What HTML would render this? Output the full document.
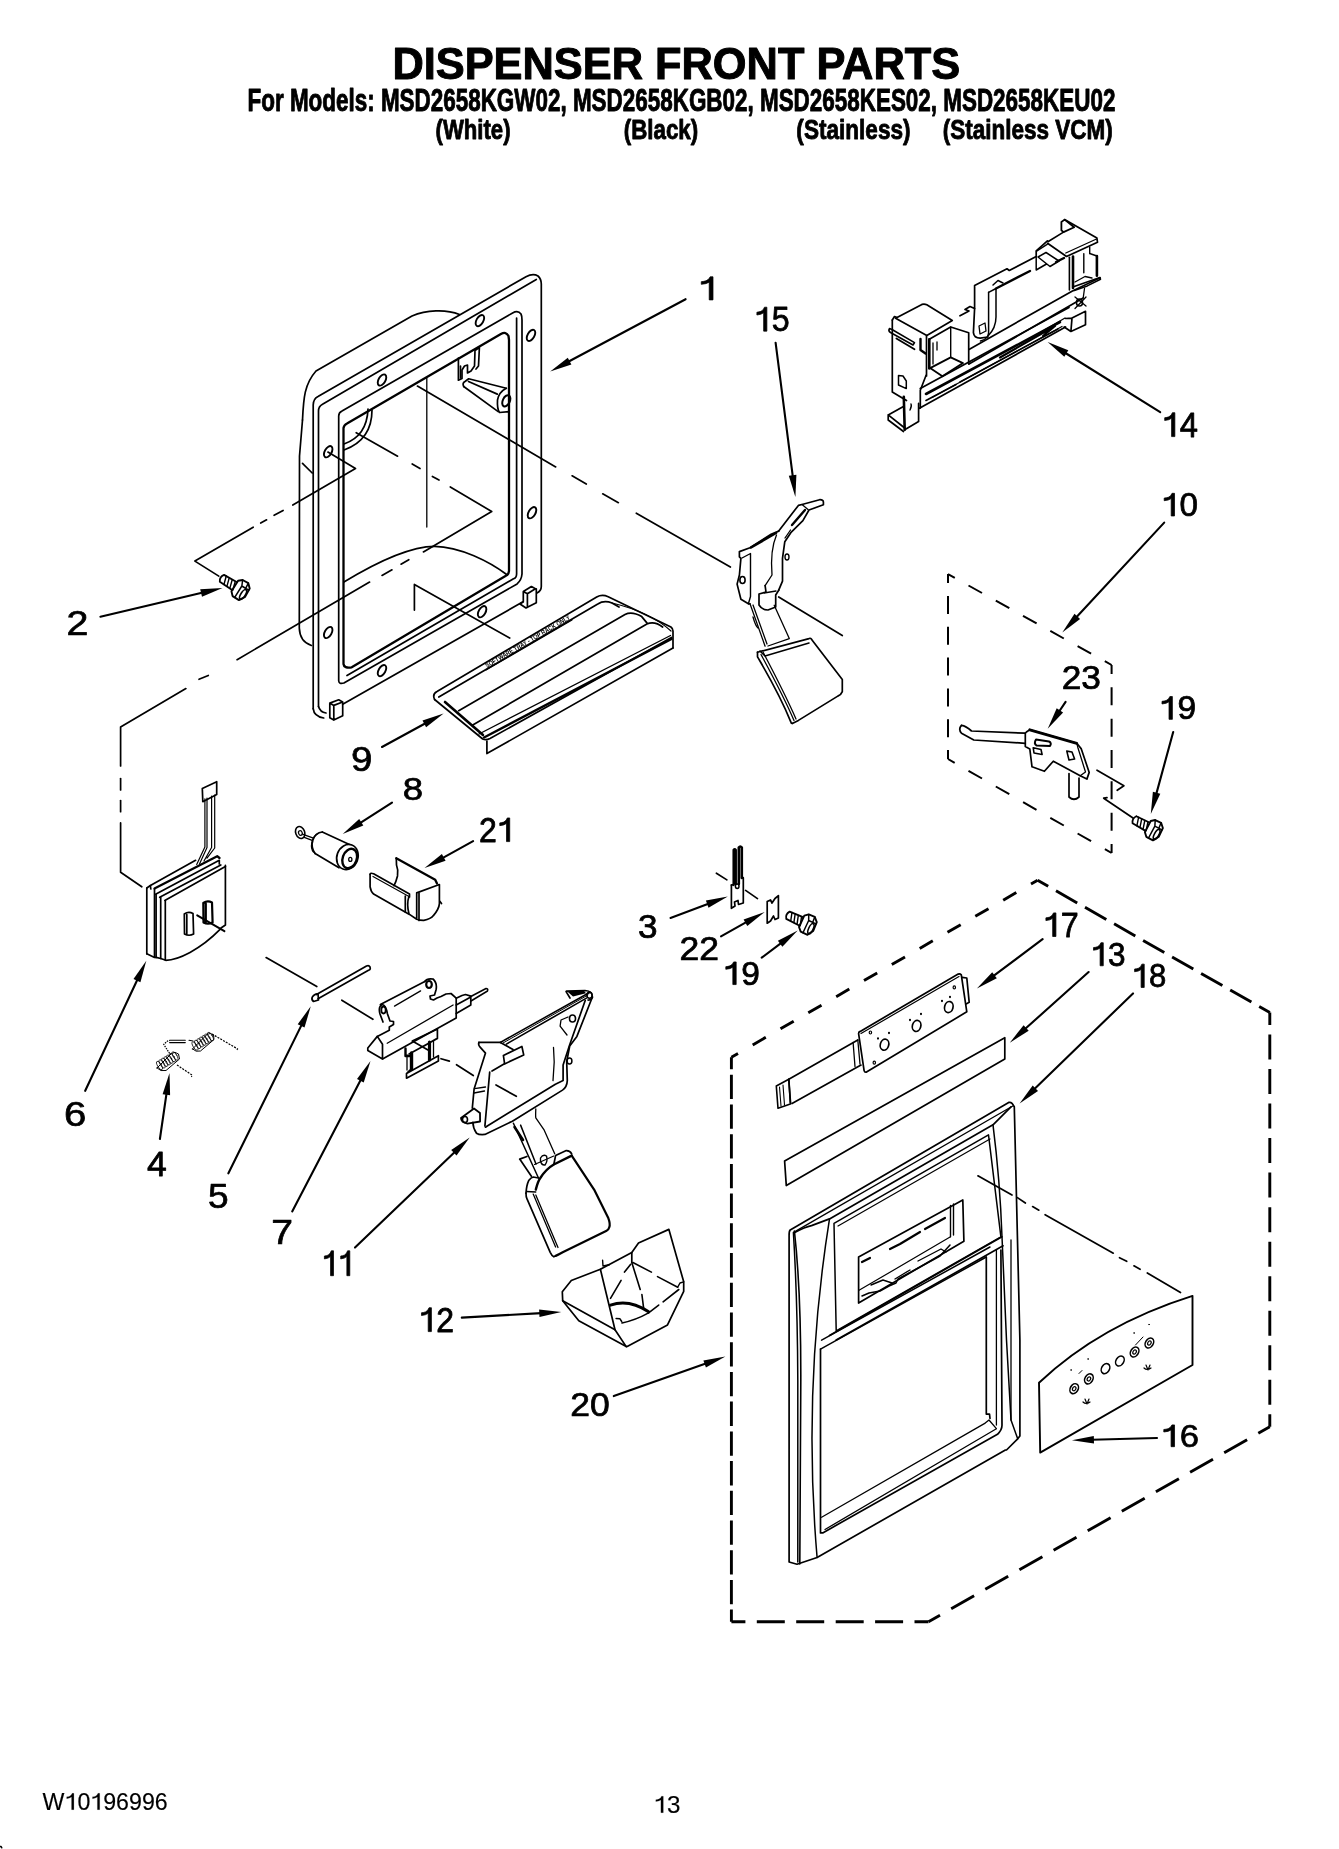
<!DOCTYPE html>
<html><head><meta charset="utf-8"><title>Dispenser Front Parts</title>
<style>
html,body{margin:0;padding:0;background:#fff;}
body{width:1339px;height:1849px;overflow:hidden;}
svg{display:block;will-change:transform;}
text{font-family:"Liberation Sans",sans-serif;fill:#000;stroke-linejoin:round;}
.ln line,.ln path,.ln polyline,.ln ellipse,.ln circle,.ln rect,.ln polygon{stroke:#000;fill:none;stroke-width:1.7;stroke-linejoin:round;stroke-linecap:round;}
.ln .f{fill:#000;stroke:none;}
.ln .w{fill:#fff;}
.ln .d{stroke-dasharray:15 16;stroke-linecap:butt;}
.ln .d2{stroke-dasharray:24 9;stroke-linecap:butt;}
</style></head><body>
<svg width="1339" height="1849" viewBox="0 0 1339 1849">
<g>
<text transform="matrix(0.4337,0,0,0.4522,392.38,78.60)" font-size="100" font-weight="bold" stroke="#000" stroke-width="2.26">DISPENSER FRONT PARTS</text>
<text transform="matrix(0.2245,0,0,0.3130,247.54,110.90)" font-size="100" font-weight="bold" stroke="#000" stroke-width="2.98">For Models: MSD2658KGW02, MSD2658KGB02, MSD2658KES02, MSD2658KEU02</text>
<text transform="matrix(0.2213,0,0,0.2797,435.59,138.70)" font-size="100" font-weight="bold" stroke="#000" stroke-width="3.19">(White)</text>
<text transform="matrix(0.2232,0,0,0.2797,623.78,138.70)" font-size="100" font-weight="bold" stroke="#000" stroke-width="3.18">(Black)</text>
<text transform="matrix(0.2258,0,0,0.2797,796.37,138.70)" font-size="100" font-weight="bold" stroke="#000" stroke-width="3.17">(Stainless)</text>
<text transform="matrix(0.2252,0,0,0.2797,942.77,138.70)" font-size="100" font-weight="bold" stroke="#000" stroke-width="3.17">(Stainless VCM)</text>
<g transform="matrix(0.2321,0,0,0.2366,42.58,1809.66)">
<text x="0.00" y="0" font-size="100" font-weight="normal" stroke="#000" stroke-width="0.64" >W</text>
<path transform="translate(94.38,0)" d="M30.5,0 L40.5,0 L40.5,-69 L33,-69 Q30.5,-60.5 22,-57 Q16,-55 9.5,-54.5 L9.5,-46.5 Q23,-47.5 30.5,-53 Z" fill="#000" stroke="#000" stroke-width="0.64" stroke-linejoin="round"/>
<text x="150.00" y="0" font-size="100" font-weight="normal" stroke="#000" stroke-width="0.64" >0</text>
<path transform="translate(205.62,0)" d="M30.5,0 L40.5,0 L40.5,-69 L33,-69 Q30.5,-60.5 22,-57 Q16,-55 9.5,-54.5 L9.5,-46.5 Q23,-47.5 30.5,-53 Z" fill="#000" stroke="#000" stroke-width="0.64" stroke-linejoin="round"/>
<text x="261.23" y="0" font-size="100" font-weight="normal" stroke="#000" stroke-width="0.64" >9</text>
<text x="316.85" y="0" font-size="100" font-weight="normal" stroke="#000" stroke-width="0.64" >6</text>
<text x="372.46" y="0" font-size="100" font-weight="normal" stroke="#000" stroke-width="0.64" >9</text>
<text x="428.08" y="0" font-size="100" font-weight="normal" stroke="#000" stroke-width="0.64" >9</text>
<text x="483.69" y="0" font-size="100" font-weight="normal" stroke="#000" stroke-width="0.64" >6</text>
</g>
<g transform="matrix(0.2420,0,0,0.2380,653.50,1812.66)">
<path transform="translate(0.00,0)" d="M30.5,0 L40.5,0 L40.5,-69 L33,-69 Q30.5,-60.5 22,-57 Q16,-55 9.5,-54.5 L9.5,-46.5 Q23,-47.5 30.5,-53 Z" fill="#000" stroke="#000" stroke-width="0.62" stroke-linejoin="round"/>
<text x="55.62" y="0" font-size="100" font-weight="normal" stroke="#000" stroke-width="0.62" >3</text>
</g>
<g transform="matrix(0.3774,0,0,0.3348,697.71,299.90)">
<path transform="translate(0.00,0)" d="M30.5,0 L40.5,0 L40.5,-69 L33,-69 Q30.5,-60.5 22,-57 Q16,-55 9.5,-54.5 L9.5,-46.5 Q23,-47.5 30.5,-53 Z" fill="#000" stroke="#000" stroke-width="2.11" stroke-linejoin="round"/>
</g>
<g transform="matrix(0.3217,0,0,0.3471,753.84,331.15)">
<path transform="translate(0.00,0)" d="M30.5,0 L40.5,0 L40.5,-69 L33,-69 Q30.5,-60.5 22,-57 Q16,-55 9.5,-54.5 L9.5,-46.5 Q23,-47.5 30.5,-53 Z" fill="#000" stroke="#000" stroke-width="2.24" stroke-linejoin="round"/>
<text x="55.62" y="0" font-size="100" font-weight="normal" stroke="#000" stroke-width="2.24" >5</text>
</g>
<g transform="matrix(0.3275,0,0,0.3464,1161.59,436.60)">
<path transform="translate(0.00,0)" d="M30.5,0 L40.5,0 L40.5,-69 L33,-69 Q30.5,-60.5 22,-57 Q16,-55 9.5,-54.5 L9.5,-46.5 Q23,-47.5 30.5,-53 Z" fill="#000" stroke="#000" stroke-width="2.23" stroke-linejoin="round"/>
<text x="55.62" y="0" font-size="100" font-weight="normal" stroke="#000" stroke-width="2.23" >4</text>
</g>
<g transform="matrix(0.3329,0,0,0.3282,1161.04,515.97)">
<path transform="translate(0.00,0)" d="M30.5,0 L40.5,0 L40.5,-69 L33,-69 Q30.5,-60.5 22,-57 Q16,-55 9.5,-54.5 L9.5,-46.5 Q23,-47.5 30.5,-53 Z" fill="#000" stroke="#000" stroke-width="2.27" stroke-linejoin="round"/>
<text x="55.62" y="0" font-size="100" font-weight="normal" stroke="#000" stroke-width="2.27" >0</text>
</g>
<g transform="matrix(0.3934,0,0,0.3514,66.43,635.00)">
<text x="0.00" y="0" font-size="100" font-weight="normal" stroke="#000" stroke-width="2.01" >2</text>
</g>
<g transform="matrix(0.3533,0,0,0.3380,1061.63,689.16)">
<text x="0.00" y="0" font-size="100" font-weight="normal" stroke="#000" stroke-width="2.17" >2</text>
<text x="55.62" y="0" font-size="100" font-weight="normal" stroke="#000" stroke-width="2.17" >3</text>
</g>
<g transform="matrix(0.3347,0,0,0.3310,1158.82,719.37)">
<path transform="translate(0.00,0)" d="M30.5,0 L40.5,0 L40.5,-69 L33,-69 Q30.5,-60.5 22,-57 Q16,-55 9.5,-54.5 L9.5,-46.5 Q23,-47.5 30.5,-53 Z" fill="#000" stroke="#000" stroke-width="2.25" stroke-linejoin="round"/>
<text x="55.62" y="0" font-size="100" font-weight="normal" stroke="#000" stroke-width="2.25" >9</text>
</g>
<g transform="matrix(0.3849,0,0,0.3423,351.07,770.96)">
<text x="0.00" y="0" font-size="100" font-weight="normal" stroke="#000" stroke-width="2.06" >9</text>
</g>
<g transform="matrix(0.3660,0,0,0.3211,402.75,800.48)">
<text x="0.00" y="0" font-size="100" font-weight="normal" stroke="#000" stroke-width="2.18" >8</text>
</g>
<g transform="matrix(0.3205,0,0,0.3429,478.90,841.60)">
<text x="0.00" y="0" font-size="100" font-weight="normal" stroke="#000" stroke-width="2.26" >2</text>
<path transform="translate(55.62,0)" d="M30.5,0 L40.5,0 L40.5,-69 L33,-69 Q30.5,-60.5 22,-57 Q16,-55 9.5,-54.5 L9.5,-46.5 Q23,-47.5 30.5,-53 Z" fill="#000" stroke="#000" stroke-width="2.26" stroke-linejoin="round"/>
</g>
<g transform="matrix(0.3511,0,0,0.3282,638.00,937.97)">
<text x="0.00" y="0" font-size="100" font-weight="normal" stroke="#000" stroke-width="2.21" >3</text>
</g>
<g transform="matrix(0.3550,0,0,0.3329,679.42,959.60)">
<text x="0.00" y="0" font-size="100" font-weight="normal" stroke="#000" stroke-width="2.18" >2</text>
<text x="55.62" y="0" font-size="100" font-weight="normal" stroke="#000" stroke-width="2.18" >2</text>
</g>
<g transform="matrix(0.3347,0,0,0.3282,722.62,984.57)">
<path transform="translate(0.00,0)" d="M30.5,0 L40.5,0 L40.5,-69 L33,-69 Q30.5,-60.5 22,-57 Q16,-55 9.5,-54.5 L9.5,-46.5 Q23,-47.5 30.5,-53 Z" fill="#000" stroke="#000" stroke-width="2.26" stroke-linejoin="round"/>
<text x="55.62" y="0" font-size="100" font-weight="normal" stroke="#000" stroke-width="2.26" >9</text>
</g>
<g transform="matrix(0.3229,0,0,0.3420,1042.83,936.50)">
<path transform="translate(0.00,0)" d="M30.5,0 L40.5,0 L40.5,-69 L33,-69 Q30.5,-60.5 22,-57 Q16,-55 9.5,-54.5 L9.5,-46.5 Q23,-47.5 30.5,-53 Z" fill="#000" stroke="#000" stroke-width="2.26" stroke-linejoin="round"/>
<text x="55.62" y="0" font-size="100" font-weight="normal" stroke="#000" stroke-width="2.26" >7</text>
</g>
<g transform="matrix(0.3151,0,0,0.3338,1090.51,965.77)">
<path transform="translate(0.00,0)" d="M30.5,0 L40.5,0 L40.5,-69 L33,-69 Q30.5,-60.5 22,-57 Q16,-55 9.5,-54.5 L9.5,-46.5 Q23,-47.5 30.5,-53 Z" fill="#000" stroke="#000" stroke-width="2.31" stroke-linejoin="round"/>
<text x="55.62" y="0" font-size="100" font-weight="normal" stroke="#000" stroke-width="2.31" >3</text>
</g>
<g transform="matrix(0.3104,0,0,0.3380,1131.65,987.46)">
<path transform="translate(0.00,0)" d="M30.5,0 L40.5,0 L40.5,-69 L33,-69 Q30.5,-60.5 22,-57 Q16,-55 9.5,-54.5 L9.5,-46.5 Q23,-47.5 30.5,-53 Z" fill="#000" stroke="#000" stroke-width="2.31" stroke-linejoin="round"/>
<text x="55.62" y="0" font-size="100" font-weight="normal" stroke="#000" stroke-width="2.31" >8</text>
</g>
<g transform="matrix(0.4022,0,0,0.3563,63.89,1125.94)">
<text x="0.00" y="0" font-size="100" font-weight="normal" stroke="#000" stroke-width="1.98" >6</text>
</g>
<g transform="matrix(0.3560,0,0,0.3580,147.01,1176.40)">
<text x="0.00" y="0" font-size="100" font-weight="normal" stroke="#000" stroke-width="2.10" >4</text>
</g>
<g transform="matrix(0.3705,0,0,0.3514,208.12,1207.75)">
<text x="0.00" y="0" font-size="100" font-weight="normal" stroke="#000" stroke-width="2.08" >5</text>
</g>
<g transform="matrix(0.3912,0,0,0.3420,271.14,1244.40)">
<text x="0.00" y="0" font-size="100" font-weight="normal" stroke="#000" stroke-width="2.05" >7</text>
</g>
<g transform="matrix(0.2932,0,0,0.3609,321.61,1275.70)">
<path transform="translate(0.00,0)" d="M30.5,0 L40.5,0 L40.5,-69 L33,-69 Q30.5,-60.5 22,-57 Q16,-55 9.5,-54.5 L9.5,-46.5 Q23,-47.5 30.5,-53 Z" fill="#000" stroke="#000" stroke-width="2.29" stroke-linejoin="round"/>
<path transform="translate(55.62,0)" d="M30.5,0 L40.5,0 L40.5,-69 L33,-69 Q30.5,-60.5 22,-57 Q16,-55 9.5,-54.5 L9.5,-46.5 Q23,-47.5 30.5,-53 Z" fill="#000" stroke="#000" stroke-width="2.29" stroke-linejoin="round"/>
</g>
<g transform="matrix(0.3198,0,0,0.3457,418.46,1331.60)">
<path transform="translate(0.00,0)" d="M30.5,0 L40.5,0 L40.5,-69 L33,-69 Q30.5,-60.5 22,-57 Q16,-55 9.5,-54.5 L9.5,-46.5 Q23,-47.5 30.5,-53 Z" fill="#000" stroke="#000" stroke-width="2.25" stroke-linejoin="round"/>
<text x="55.62" y="0" font-size="100" font-weight="normal" stroke="#000" stroke-width="2.25" >2</text>
</g>
<g transform="matrix(0.3555,0,0,0.3408,570.32,1415.96)">
<text x="0.00" y="0" font-size="100" font-weight="normal" stroke="#000" stroke-width="2.15" >2</text>
<text x="55.62" y="0" font-size="100" font-weight="normal" stroke="#000" stroke-width="2.15" >0</text>
</g>
<g transform="matrix(0.3460,0,0,0.3155,1160.51,1446.68)">
<path transform="translate(0.00,0)" d="M30.5,0 L40.5,0 L40.5,-69 L33,-69 Q30.5,-60.5 22,-57 Q16,-55 9.5,-54.5 L9.5,-46.5 Q23,-47.5 30.5,-53 Z" fill="#000" stroke="#000" stroke-width="2.27" stroke-linejoin="round"/>
<text x="55.62" y="0" font-size="100" font-weight="normal" stroke="#000" stroke-width="2.27" >6</text>
</g>
</g>
<g class="ln">
<line x1="685.6" y1="299.2" x2="567.8" y2="362.0" style="stroke-width:2.1"/>
<path class="f" d="M550.2,371.4L567.8,357.7L571.4,364.4Z"/>
<line x1="775.6" y1="342.7" x2="792.9" y2="477.3" style="stroke-width:2.1"/>
<path class="f" d="M795.4,497.1L788.8,475.8L796.4,474.8Z"/>
<line x1="1160.2" y1="412.1" x2="1064.6" y2="352.5" style="stroke-width:2.1"/>
<path class="f" d="M1047.6,341.9L1068.3,350.3L1064.3,356.8Z"/>
<line x1="1164.2" y1="522.6" x2="1075.9" y2="617.7" style="stroke-width:2.1"/>
<path class="f" d="M1062.3,632.4L1074.5,613.7L1080.1,618.9Z"/>
<line x1="100.4" y1="616.7" x2="203.0" y2="592.6" style="stroke-width:2.1"/>
<path class="f" d="M222.5,588.0L202.0,596.7L200.2,589.3Z"/>
<line x1="1065.6" y1="701.8" x2="1058.8" y2="712.0" style="stroke-width:2.1"/>
<path class="f" d="M1047.7,728.7L1056.7,708.3L1063.1,712.5Z"/>
<line x1="1173.2" y1="732.0" x2="1156.1" y2="794.6" style="stroke-width:2.1"/>
<path class="f" d="M1150.8,813.9L1152.9,791.7L1160.3,793.7Z"/>
<line x1="382.0" y1="747.0" x2="426.0" y2="723.0" style="stroke-width:2.1"/>
<path class="f" d="M443.6,713.4L426.1,727.3L422.5,720.6Z"/>
<line x1="392.0" y1="802.6" x2="359.6" y2="823.3" style="stroke-width:2.1"/>
<path class="f" d="M342.7,834.0L359.2,819.0L363.3,825.4Z"/>
<line x1="473.1" y1="841.2" x2="442.0" y2="858.3" style="stroke-width:2.1"/>
<path class="f" d="M424.5,868.0L441.9,854.0L445.6,860.7Z"/>
<line x1="670.5" y1="917.9" x2="709.1" y2="903.5" style="stroke-width:2.1"/>
<path class="f" d="M727.8,896.5L708.5,907.8L705.9,900.6Z"/>
<line x1="721.0" y1="936.3" x2="747.2" y2="921.7" style="stroke-width:2.1"/>
<path class="f" d="M764.7,912.0L747.3,926.0L743.6,919.4Z"/>
<line x1="761.7" y1="957.7" x2="781.7" y2="942.6" style="stroke-width:2.1"/>
<path class="f" d="M797.7,930.5L782.4,946.8L777.9,940.7Z"/>
<line x1="1042.6" y1="939.2" x2="992.9" y2="976.4" style="stroke-width:2.1"/>
<path class="f" d="M976.9,988.4L992.2,972.2L996.8,978.3Z"/>
<line x1="1088.6" y1="972.0" x2="1024.7" y2="1029.3" style="stroke-width:2.1"/>
<path class="f" d="M1009.8,1042.7L1023.6,1025.2L1028.7,1030.8Z"/>
<line x1="1133.0" y1="993.4" x2="1033.9" y2="1089.6" style="stroke-width:2.1"/>
<path class="f" d="M1019.6,1103.5L1032.7,1085.4L1038.0,1090.9Z"/>
<line x1="85.2" y1="1090.8" x2="137.8" y2="978.8" style="stroke-width:2.1"/>
<path class="f" d="M146.3,960.7L140.4,982.2L133.5,979.0Z"/>
<line x1="159.9" y1="1139.0" x2="166.6" y2="1092.8" style="stroke-width:2.1"/>
<path class="f" d="M169.5,1073.0L170.1,1095.3L162.6,1094.2Z"/>
<line x1="228.4" y1="1173.3" x2="302.0" y2="1024.1" style="stroke-width:2.1"/>
<path class="f" d="M310.8,1006.2L304.5,1027.6L297.7,1024.3Z"/>
<line x1="292.2" y1="1211.4" x2="361.3" y2="1078.8" style="stroke-width:2.1"/>
<path class="f" d="M370.5,1061.1L363.7,1082.4L357.0,1078.9Z"/>
<line x1="355.0" y1="1247.6" x2="455.3" y2="1151.4" style="stroke-width:2.1"/>
<path class="f" d="M469.7,1137.6L456.5,1155.6L451.2,1150.1Z"/>
<line x1="461.8" y1="1317.6" x2="541.3" y2="1313.1" style="stroke-width:2.1"/>
<path class="f" d="M561.3,1312.0L539.5,1317.0L539.1,1309.4Z"/>
<line x1="613.8" y1="1396.1" x2="706.5" y2="1363.3" style="stroke-width:2.1"/>
<path class="f" d="M725.4,1356.6L705.9,1367.5L703.4,1360.4Z"/>
<line x1="1157.0" y1="1438.0" x2="1091.9" y2="1439.8" style="stroke-width:2.1"/>
<path class="f" d="M1071.9,1440.3L1093.8,1435.9L1094.0,1443.5Z"/>
<path style="stroke-linecap:butt;stroke-width:2.9" d="M731.4,1057.2L738.0,1053.4M752.7,1044.9L765.8,1037.3M780.5,1028.8L793.7,1021.2M808.3,1012.8L821.5,1005.2M836.2,996.7L849.3,989.1M864.0,980.6L877.2,973.0M891.8,964.5L905.0,956.9M919.7,948.4L932.8,940.8M947.5,932.3L960.7,924.7M975.3,916.3L988.5,908.7M1003.2,900.2L1016.3,892.6M1031.0,884.1L1037.6,880.3"/>
<path style="stroke-linecap:butt;stroke-width:2.9" d="M1037.6,880.3L1048.2,886.3M1056.0,890.8L1077.2,902.9M1085.0,907.3L1106.3,919.4M1114.1,923.8L1135.3,935.9M1143.1,940.4L1164.3,952.4M1172.1,956.9L1193.3,969.0M1201.1,973.4L1222.4,985.5M1230.2,989.9L1251.4,1002.0M1259.2,1006.5L1269.8,1012.5"/>
<path style="stroke-linecap:butt;stroke-width:2.9" d="M1269.8,1012.5L1269.8,1025.0M1269.8,1034.5L1269.8,1059.5M1269.8,1069.0L1269.8,1094.0M1269.8,1103.6L1269.8,1128.6M1269.8,1138.1L1269.8,1163.1M1269.8,1172.6L1269.8,1197.6M1269.8,1207.2L1269.8,1232.2M1269.8,1241.7L1269.8,1266.7M1269.8,1276.2L1269.8,1301.2M1269.8,1310.7L1269.8,1335.7M1269.8,1345.2L1269.8,1370.2M1269.8,1379.8L1269.8,1404.8M1269.8,1414.3L1269.8,1426.8"/>
<path style="stroke-linecap:butt;stroke-width:2.9" d="M1269.8,1426.8L1258.3,1433.3M1247.1,1439.8L1224.2,1452.8M1213.0,1459.3L1190.1,1472.3M1178.9,1478.8L1155.9,1491.8M1144.7,1498.3L1121.8,1511.3M1110.6,1517.8L1087.7,1530.8M1076.5,1537.3L1053.6,1550.3M1042.4,1556.8L1019.4,1569.8M1008.2,1576.3L985.3,1589.3M974.1,1595.8L951.2,1608.8M940.0,1615.3L928.5,1621.8"/>
<path style="stroke-linecap:butt;stroke-width:2.9" d="M928.5,1621.8L914.5,1621.8M903.1,1621.8L875.1,1621.8M863.7,1621.8L835.7,1621.8M824.2,1621.8L796.2,1621.8M784.8,1621.8L756.8,1621.8M745.4,1621.8L731.4,1621.8"/>
<path style="stroke-linecap:butt;stroke-width:2.9" d="M731.4,1621.8L731.4,1609.6M731.4,1604.2L731.4,1579.9M731.4,1574.5L731.4,1550.2M731.4,1544.8L731.4,1520.5M731.4,1515.1L731.4,1490.8M731.4,1485.4L731.4,1461.1M731.4,1455.7L731.4,1431.4M731.4,1425.9L731.4,1401.6M731.4,1396.2L731.4,1371.9M731.4,1366.5L731.4,1342.2M731.4,1336.8L731.4,1312.5M731.4,1307.1L731.4,1282.8M731.4,1277.4L731.4,1253.1M731.4,1247.6L731.4,1223.3M731.4,1217.9L731.4,1193.6M731.4,1188.2L731.4,1163.9M731.4,1158.5L731.4,1134.2M731.4,1128.8L731.4,1104.5M731.4,1099.1L731.4,1074.8M731.4,1069.3L731.4,1057.2"/>
<path style="stroke-linecap:butt;stroke-width:2.0" d="M948.0,574.1L954.8,577.9M968.5,585.5L982.0,593.0M995.8,600.6L1009.3,608.2M1023.0,615.8L1036.6,623.3M1050.3,630.9L1063.8,638.5M1077.6,646.1L1091.1,653.6M1104.8,661.2L1111.6,665.0"/>
<path style="stroke-linecap:butt;stroke-width:2.0" d="M1111.6,665.0L1111.6,674.0M1111.6,687.3L1111.6,705.3M1111.6,718.7L1111.6,736.7M1111.6,750.0L1111.6,768.0M1111.6,781.3L1111.6,799.3M1111.6,812.7L1111.6,830.7M1111.6,844.0L1111.6,853.0"/>
<path style="stroke-linecap:butt;stroke-width:2.0" d="M1111.6,853.0L1104.9,849.1M1091.1,841.2L1077.6,833.5M1063.8,825.5L1050.3,817.8M1036.5,809.9L1023.1,802.1M1009.3,794.2L995.8,786.5M982.0,778.5L968.5,770.8M954.7,762.9L948.0,759.0"/>
<path style="stroke-linecap:butt;stroke-width:2.0" d="M948.0,759.0L948.0,750.0M948.0,737.2L948.0,719.2M948.0,706.4L948.0,688.4M948.0,675.5L948.0,657.5M948.0,644.7L948.0,626.7M948.0,613.9L948.0,595.9M948.0,583.1L948.0,574.1"/>
<path d="M302.5,420 C303.5,398 304.5,384 316,371 L412,316 C426,310 446,309 459.5,314.5"/>
<path d="M302.5,420 L299.5,456 L299.3,628 C299.6,638 304,643 311.4,645.5"/>
<path d="M302.5,463.3 L312.2,473"/>
<path d="M313.2,708.7 L313.2,405 Q313.2,399 318,396.5 L526,276.7 Q533,273 538,276 Q541.3,279 541.3,284 L541.3,586.6 Q541.3,591 537,593"/>
<path d="M313.2,708.7 Q314,716.5 323.7,718"/>
<path d="M318.5,706.5 L318.5,411 Q318.5,406.5 322.5,404.3 L536.3,279.4"/>
<path d="M318.5,706.5 Q320,712 326,713"/>
<path d="M342.7,704.2 L523,601.8"/>
<path d="M338.7,680.7 L338.7,416 Q338.7,412.5 342,411 L512.6,313 Q518,310 521,314 Q522,316 522,320 L522,574 Q521.5,580 517.1,583.9 L343.9,683 Q339,684.5 338.7,680.7 Z"/>
<path style="stroke-width:2.3" d="M343.5,664 L343.5,428 Q344,425 347,423.5 L500.9,334.1 Q506,331 508.5,336 L509,340 L509,571 Q508.5,575 506.3,575.5 L351.7,667.3 Q344,668.5 343.5,664 Z"/>
<path d="M516.6,318 L516.6,574 Q516.5,578 513.5,578.8 L347,675.5"/>
<path d="M344,450 Q372,440 372,410"/>
<path d="M344,444 Q367,436 368,409"/>
<path d="M329.8,703.1 L338.7,699.8 L342.7,702 L333.8,705.4 Z M329.8,703.1 L329.8,717.7 L333.8,720 L333.8,705.4 M333.8,720 L342.7,715.7 L342.7,702"/>
<path d="M523.3,591.5 L531.4,586.6 L535.4,588.8 L527.4,593.8 Z M523.3,591.5 L523.3,601.8 L520,604 L526,608 L527.4,607.2 L527.4,593.8 M527.4,607.2 L536.3,602.7 L536.3,588.8"/>
<ellipse cx="328.2" cy="451.7" rx="3.4" ry="6.2" transform="rotate(30 328.2 451.7)" style="stroke-width:1.9"/>
<ellipse cx="382" cy="380" rx="3.4" ry="6.2" transform="rotate(30 382 380)" style="stroke-width:1.9"/>
<ellipse cx="479.9" cy="320.6" rx="3.4" ry="6.2" transform="rotate(30 479.9 320.6)" style="stroke-width:1.9"/>
<ellipse cx="531" cy="335.4" rx="3.4" ry="6.2" transform="rotate(30 531 335.4)" style="stroke-width:1.9"/>
<ellipse cx="532" cy="512.7" rx="3.4" ry="6.2" transform="rotate(30 532 512.7)" style="stroke-width:1.9"/>
<ellipse cx="328.2" cy="632.5" rx="3.4" ry="6.2" transform="rotate(30 328.2 632.5)" style="stroke-width:1.9"/>
<ellipse cx="382" cy="670.6" rx="3.4" ry="6.2" transform="rotate(30 382 670.6)" style="stroke-width:1.9"/>
<ellipse cx="482.1" cy="611.7" rx="3.4" ry="6.2" transform="rotate(30 482.1 611.7)" style="stroke-width:1.9"/>
<path d="M458.4,358 L458.4,380.2 L462,378.5 L462,370 L464.5,366 L467.5,365 L467.5,373 L471,371 L474.5,366 L475,350.5 L479.4,347.5 L478.5,366 L476,369"/>
<path d="M460.5,366 L460.5,378"/>
<path d="M463.7,386.5 Q462,383 465,381.5 L468.7,378.8 L506.3,388.3"/>
<path d="M468.5,381.5 L497.3,394.1"/>
<path d="M463.7,386.5 L498.2,411.6"/>
<path d="M506.3,388.3 Q499,392 497.5,400 Q497,409 499.5,412.5 L509,411.6 L509,416"/>
<ellipse cx="506.3" cy="400.8" rx="3.5" ry="6" transform="rotate(25 506.3 400.8)" style="stroke-width:2.0"/>
<path d="M417.4,386.1L555.7,466.9"/>
<path d="M572.1,475.8L586.3,484.1"/>
<path d="M602.7,493.8L618.4,502.7"/>
<path d="M636.3,513.2L730.4,567"/>
<path d="M778.7,597L842.3,635.6"/>
<path style="stroke-width:1.3" d="M426.8,378 L426.8,527"/>
<path d="M327.9,452.1L355.5,468.5L292.8,505.1"/>
<path d="M283.1,510.4L274.1,515.3"/>
<path d="M266.6,519.8L260.7,523.1"/>
<path d="M253.2,527.2L194.9,561.1L218.8,576.1"/>
<path d="M356.2,432.7L397.6,456.2"/>
<path d="M412.2,464L420,468.5"/>
<path d="M432.4,476.4L439,480"/>
<path d="M450.3,486.9L491.7,511.5L423.4,551.9"/>
<path d="M408.8,559.7L401,564.2"/>
<path d="M392,569.8L382,575.4"/>
<path d="M369.6,582.1L237.1,659.7"/>
<path d="M208.3,675.5L199,679.3"/>
<path d="M185.9,688.6L120.6,726.9L120.6,766"/>
<path d="M120.6,778.5L120.6,790"/>
<path d="M120.6,800.5L120.6,811.7"/>
<path d="M120.6,822.9L120.6,872.2L141.8,886.8"/>
<path d="M414.4,610.1L414.4,584.4L509.7,638.1"/>
<path d="M343.9,582 C380,560 410,546.5 434.6,546.3 C460,546.5 490,562 506.3,574.3"/>
<path d="M434.6,699.5 Q432,694 437,691.5 L596.7,597 Q602,594 608.2,596.7 L670.9,627 Q673,628.5 673,631 L673,648"/>
<path d="M434.6,699.5 L482.7,739 Q486,740.5 490,738.5 L671.5,637.5"/>
<path d="M486.9,741 L486.9,753.6 L673,648"/>
<path d="M438.8,697.1 L597.8,604 Q604,600 612,603 L619,607"/>
<path d="M458.7,710.7 L625,614.5 Q632,611 641.7,616.6 L646.9,622.9"/>
<path d="M472.3,725.3 L646.9,623.9 Q655,621 662.6,627"/>
<path style="stroke-width:1.4" d="M479,734 L670.5,635.5"/>
<path style="stroke-width:2.4" d="M484,737.5 L671.5,639"/>
<path style="stroke-width:1.2" d="M612,603 Q650,612 671,631"/>
<path style="stroke-width:2.6" d="M445,702 L483,735"/>
<text transform="translate(487,668) rotate(-30.4)" font-size="7" font-weight="bold" textLength="97" lengthAdjust="spacingAndGlyphs">SOFTWARE TRAY - TOP RACK ONLY</text>
<path style="stroke-width:1.2" d="M486,670 L572,620"/>
<g transform="translate(221.5,578) rotate(32) scale(1.0)">
<path style="stroke-width:1.8" d="M0.5,-4 L15,-4.6 M0.5,4 L15,4.6 M0.5,-4 Q-2.5,0 0.5,4"/>
<path style="stroke-width:1.4" d="M3,-4.2 L5.5,4.2"/>
<path style="stroke-width:1.4" d="M6.5,-4.2 L9.0,4.2"/>
<path style="stroke-width:1.4" d="M10,-4.2 L12.5,4.2"/>
<path style="stroke-width:1.4" d="M13.5,-4.2 L16.0,4.2"/>
<path style="stroke-width:1.9" d="M15.5,-6.5 L19,-9.5 L25.5,-9.8 L29.5,-6 L30,3.5 L26.5,9.5 L19,9.5 L15.5,6 Z"/>
<path style="stroke-width:1.5" d="M19,-9.5 L21.5,-4 L21.5,9.5 M25.5,-9.8 L26,-4 M21.5,-4 L29.5,-4"/>
<ellipse cx="27" cy="2.5" rx="2.2" ry="5.5" transform="rotate(0 27 2.5)" style="stroke-width:1.6"/>
</g>
<g transform="translate(787.5,915) rotate(25) scale(1.0)">
<path style="stroke-width:1.8" d="M0.5,-4 L15,-4.6 M0.5,4 L15,4.6 M0.5,-4 Q-2.5,0 0.5,4"/>
<path style="stroke-width:1.4" d="M3,-4.2 L5.5,4.2"/>
<path style="stroke-width:1.4" d="M6.5,-4.2 L9.0,4.2"/>
<path style="stroke-width:1.4" d="M10,-4.2 L12.5,4.2"/>
<path style="stroke-width:1.4" d="M13.5,-4.2 L16.0,4.2"/>
<path style="stroke-width:1.9" d="M15.5,-6.5 L19,-9.5 L25.5,-9.8 L29.5,-6 L30,3.5 L26.5,9.5 L19,9.5 L15.5,6 Z"/>
<path style="stroke-width:1.5" d="M19,-9.5 L21.5,-4 L21.5,9.5 M25.5,-9.8 L26,-4 M21.5,-4 L29.5,-4"/>
<ellipse cx="27" cy="2.5" rx="2.2" ry="5.5" transform="rotate(0 27 2.5)" style="stroke-width:1.6"/>
</g>
<g transform="translate(1134,819.5) rotate(28) scale(1.0)">
<path style="stroke-width:1.8" d="M0.5,-4 L15,-4.6 M0.5,4 L15,4.6 M0.5,-4 Q-2.5,0 0.5,4"/>
<path style="stroke-width:1.4" d="M3,-4.2 L5.5,4.2"/>
<path style="stroke-width:1.4" d="M6.5,-4.2 L9.0,4.2"/>
<path style="stroke-width:1.4" d="M10,-4.2 L12.5,4.2"/>
<path style="stroke-width:1.4" d="M13.5,-4.2 L16.0,4.2"/>
<path style="stroke-width:1.9" d="M15.5,-6.5 L19,-9.5 L25.5,-9.8 L29.5,-6 L30,3.5 L26.5,9.5 L19,9.5 L15.5,6 Z"/>
<path style="stroke-width:1.5" d="M19,-9.5 L21.5,-4 L21.5,9.5 M25.5,-9.8 L26,-4 M21.5,-4 L29.5,-4"/>
<ellipse cx="27" cy="2.5" rx="2.2" ry="5.5" transform="rotate(0 27 2.5)" style="stroke-width:1.6"/>
</g>
<path d="M146.8,888 L146.8,953.8"/>
<path d="M154.5,889 L154.5,956.5"/>
<path d="M156.1,894.5 L156.1,957.4"/>
<path d="M160.7,897.5 L160.7,958.5"/>
<path d="M165.3,900.5 L165.3,960"/>
<path d="M146.8,953.8 L154.5,957.4 L156.1,957.4 L160.7,958.5 L165.8,960.3 C178,960 200,950 220.3,929.2"/>
<path d="M225.4,865.4 L225.4,925 L221,928"/>
<path d="M146.8,888 L150.4,885.5 L195.6,860.3"/>
<path d="M150.4,885.5 L150.8,889"/>
<path style="stroke-width:2.3" d="M154.5,888.5 L217.2,856.2 L219.5,858"/>
<path d="M155.6,894.2 L219.3,860.3 L219.3,864"/>
<path d="M159.7,897.3 L220.8,864.9"/>
<path d="M164.8,900.4 L225.4,866.5"/>
<path d="M184.3,914 Q188.5,911 193,913.5 L193.6,934 Q189,936.5 184.5,934 Z M186.8,914.5 L186.8,933.5"/>
<path style="stroke-width:2.2" d="M203.3,903 Q207.5,900 212,902.5 L212.6,922.5 Q208,925 203.5,922.5 Z M205.8,903.5 L205.8,922"/>
<path style="stroke-width:2.0" d="M197.2,915.3 L224.4,931.2"/>
<path d="M202.3,788.4 L216.7,781.7 L216.7,794.5 L202.8,801.7 Z"/>
<path style="stroke-width:1.2" d="M204.9,798.8 L204.9,847 L196.7,864.4 M207,798 L207,847.5 L199.5,864 M211.6,796 L211.6,847.5 L204,861 M214.7,795 L214.7,848 L207,858.2"/>
<ellipse cx="300.2" cy="832.5" rx="4.5" ry="6.2" transform="rotate(-20 300.2 832.5)" style="stroke-width:1.6"/>
<ellipse cx="300.4" cy="833" rx="1.8" ry="2.4" transform="rotate(-20 300.4 833)" style="stroke-width:1.3"/>
<path style="stroke-width:1.3" d="M303.1,834.3 L312.7,837.9 M304.3,837.3 L312.1,840.3"/>
<path d="M322.3,832 L352.1,845.7 M315.1,853.5 L339,867.8"/>
<path d="M322.3,832 C313,833 309,845 315.1,853.5"/>
<path style="stroke-width:1.3" d="M318,833.5 C311,837 310,848 313.5,852"/>
<ellipse class="w" cx="347.4" cy="857" rx="10.5" ry="12.8" transform="rotate(20 347.4 857)" style="stroke-width:1.7"/>
<ellipse cx="349.7" cy="858.5" rx="7" ry="10" transform="rotate(20 349.7 858.5)" style="stroke-width:2.4"/>
<ellipse cx="350.3" cy="859.4" rx="1.6" ry="2" transform="rotate(0 350.3 859.4)" style="stroke-width:1.3"/>
<path d="M370.1,874.4 Q370,872.5 373.6,873.8 L409.5,894.1 L409.5,897"/>
<path d="M370.1,874.4 L370.1,886.9 Q371,892 373.6,894.1 L409.5,914.4 L416.7,919.2 Q420,920.5 423.8,920.4 Q431,919 433.4,915.6 Q439,909 439.4,903.6 L439.4,884.5 L416.7,892.9 L416.7,918"/>
<path style="stroke-width:1.2" d="M373,876.5 L409,896.5"/>
<path style="stroke-width:2.3" d="M396.3,858.2 L435.2,879.7 L437,883.5"/>
<path d="M396.3,858.2 L396.5,865 Q398.5,870 397.5,876 Q396,882 394,885.7"/>
<path d="M405.3,896 L405.3,912 M408.9,896.5 Q406.5,904 408.9,913.5"/>
<path d="M419,893 L419,920.5"/>
<path d="M440,901.5 L441.5,903.5"/>
<path d="M266.1,957.6 L316.8,986.6"/>
<path d="M318,998.8 L368.5,970.3 Q371,969.5 370,967 Q369,965 366.5,966 L316.5,994.5"/>
<path d="M312.4,996.9 Q311,999.5 313.5,1001.5 L318.5,1000 L318,993.8 Q314.5,993.5 312.4,996.9 Z"/>
<path d="M341.8,1000.2 L372.9,1019.3"/>
<ellipse cx="195.0" cy="1046.0" rx="1.9" ry="4.8" transform="rotate(-30 195.0 1046.0)" style="stroke-width:0.75"/>
<ellipse cx="197.6" cy="1044.4" rx="1.9" ry="4.8" transform="rotate(-30 197.6 1044.4)" style="stroke-width:0.75"/>
<ellipse cx="200.2" cy="1042.8" rx="1.9" ry="4.8" transform="rotate(-30 200.2 1042.8)" style="stroke-width:0.75"/>
<ellipse cx="202.8" cy="1041.2" rx="1.9" ry="4.8" transform="rotate(-30 202.8 1041.2)" style="stroke-width:0.75"/>
<ellipse cx="205.3" cy="1039.7" rx="1.9" ry="4.8" transform="rotate(-30 205.3 1039.7)" style="stroke-width:0.75"/>
<ellipse cx="207.9" cy="1038.1" rx="1.9" ry="4.8" transform="rotate(-30 207.9 1038.1)" style="stroke-width:0.75"/>
<ellipse cx="210.5" cy="1036.5" rx="1.9" ry="4.8" transform="rotate(-30 210.5 1036.5)" style="stroke-width:0.75"/>
<ellipse cx="159.5" cy="1065.5" rx="1.9" ry="4.8" transform="rotate(-30 159.5 1065.5)" style="stroke-width:0.75"/>
<ellipse cx="162.1" cy="1063.9" rx="1.9" ry="4.8" transform="rotate(-30 162.1 1063.9)" style="stroke-width:0.75"/>
<ellipse cx="164.7" cy="1062.3" rx="1.9" ry="4.8" transform="rotate(-30 164.7 1062.3)" style="stroke-width:0.75"/>
<ellipse cx="167.2" cy="1060.8" rx="1.9" ry="4.8" transform="rotate(-30 167.2 1060.8)" style="stroke-width:0.75"/>
<ellipse cx="169.8" cy="1059.2" rx="1.9" ry="4.8" transform="rotate(-30 169.8 1059.2)" style="stroke-width:0.75"/>
<ellipse cx="172.4" cy="1057.6" rx="1.9" ry="4.8" transform="rotate(-30 172.4 1057.6)" style="stroke-width:0.75"/>
<ellipse cx="175.0" cy="1056.0" rx="1.9" ry="4.8" transform="rotate(-30 175.0 1056.0)" style="stroke-width:0.75"/>
<path style="stroke-width:1.0" d="M192.5,1049 L207,1034.5 Q210.5,1032 213.5,1035 L214,1039.5 L200.5,1051 Q196,1052.5 192.5,1049 Z"/>
<path style="stroke-width:1.0" d="M157,1068 L171.5,1053.5 Q175,1051 178.5,1054 L179.5,1059 L166,1070.5 Q160.5,1072 157,1068 Z"/>
<path d="M212,1034 L237.6,1048.9 L236,1050.5 M177,1065 L192,1075 L191.5,1077" style="stroke-dasharray:2 1.2;stroke-width:1.2;stroke-linecap:butt"/>
<path style="stroke-width:1.1" d="M169.6,1040.3 L185.3,1040.3 M169.6,1042.6 L185.3,1042.6 M189,1040.3 L193,1041"/>
<path d="M169.6,1053.4 L163.7,1044.4 L167.4,1041.1 L169.6,1040.5" style="stroke-dasharray:1.5 1;stroke-width:1.2;stroke-linecap:butt"/>
<path d="M367.8,1048 L377.3,1036.4 L382.5,1044.2 L382.5,1058.9 L367.8,1050.5 Z"/>
<path d="M377.3,1036.4 L389.3,1030.3 L389.3,1027 L393.5,1024.5 L393.5,1021.5 L390,1021 L387.5,1014 Q386,1005 382,1004.5 Q378,1007 380,1014 L383,1022"/>
<path d="M380.4,1004.5 L424.8,981.5"/>
<path d="M424.8,981.5 Q427,978 433,979 Q437.5,983 436,990 L434.5,995 L430,996 L430.5,999 L433.5,1000 L437,998 L441,996.5 L446,994 L451,993.5 L456.2,998.2 L456.2,1018.1 L382.5,1058.9"/>
<path style="stroke-width:1.3" d="M387.2,1043.2 L453.1,1005"/>
<path style="stroke-width:1.3" d="M394.5,1006.1 L420.6,990.9"/>
<ellipse cx="429" cy="984.5" rx="2.8" ry="3.5" transform="rotate(0 429 984.5)" style="stroke-width:2.2"/>
<ellipse cx="383.5" cy="1010" rx="2.2" ry="3.5" transform="rotate(0 383.5 1010)" style="stroke-width:1.8"/>
<path d="M456.2,998.2 L462,995.5 L465.5,994.5 L470.8,996.1 L470.8,1005 L456.2,1013.5 M456.2,1005 L470.8,997"/>
<path style="stroke-width:1.5" d="M470.8,996.5 L486,988.5 Q488.5,988.5 487.5,991 L471,1001"/>
<path style="stroke-width:2.4" d="M405.5,1048.5 L405.5,1056 L409.5,1056"/>
<path style="stroke-width:3.4" d="M411.5,1053 L411.5,1069"/>
<path style="stroke-width:1.3" d="M407,1055 L407,1070"/>
<path style="stroke-width:3.2" d="M429.5,1042 L429.5,1060"/>
<path style="stroke-width:1.3" d="M433.5,1041 L433.5,1057"/>
<path d="M406.5,1073.5 L438.4,1055.7 L438.4,1061 L406.5,1078.2 Z M406.5,1073.5 L410,1070"/>
<path d="M412.3,1041.1 L437.4,1029 L437.4,1038.5 L409.1,1054 M412.3,1041.1 L428,1050 M424,1046 L436,1039"/>
<path style="stroke-width:1.6" d="M500.4,1042.4 L590,992.2 M506.4,1044.1 L586.4,998.1"/>
<path style="stroke-width:1" d="M503,1043 L588,995"/>
<path d="M566.1,991.6 L570,998 M566.5,991.2 L585,990.5 Q593,991 592.4,997.5 Q591,1000.5 588,1000"/>
<ellipse cx="589.5" cy="995.2" rx="2.6" ry="3" transform="rotate(0 589.5 995.2)" style="stroke-width:1.6"/>
<path d="M592.4,997 L576.9,1036.4 L569.7,1046 L566.7,1061.5 L567.3,1080.6 Q567,1087 562.5,1090.1 L512.4,1121.2 L484.9,1134.4 Q479,1135 476.5,1133.2 Q473,1128 472.9,1122.4"/>
<path d="M585.2,1000.5 L569.7,1044.7 L563.1,1065 L563.1,1080.6 L555.4,1084.2 L487.3,1126 L485.5,1127.2"/>
<path d="M478.9,1042.4 Q478,1045 480.1,1047.1 L485.5,1053.1 L474.1,1089 L472.3,1108.1"/>
<path d="M478.9,1042.4 L500.4,1042.4"/>
<path d="M489.7,1072.2 L484.9,1126"/>
<path d="M492,1071 L504,1063.9"/>
<path d="M503.4,1055.5 L521.9,1046.5 L523.7,1054.9 L504.6,1063.9 Z"/>
<path d="M500.4,1042.4 L513,1049.5"/>
<path style="stroke-width:1.3" d="M474.5,1088.6 L485.5,1087 M474,1093 L484.5,1091"/>
<path style="stroke-width:1.8" d="M461,1118 L474,1108.5 L480,1113 L480.1,1121.5 L467.5,1123.6 Q461,1122.5 461,1118 Z"/>
<ellipse cx="465" cy="1119.5" rx="2.5" ry="3" transform="rotate(0 465 1119.5)" style="stroke-width:1.6"/>
<path style="stroke-width:1.3" d="M567,1035 L560.1,1026.2 L561,1020 L568,1017 M553.5,1047.5 L554.2,1062 L553,1080.6"/>
<ellipse cx="572.5" cy="1018.5" rx="3" ry="3.5" transform="rotate(0 572.5 1018.5)" style="stroke-width:1.6"/>
<ellipse cx="569.5" cy="1061" rx="2.4" ry="3" transform="rotate(0 569.5 1061)" style="stroke-width:1.5"/>
<path style="stroke-width:1.5" d="M513.4,1123.3 L538.5,1178 M520.6,1125.1 L536,1164"/>
<path style="stroke-width:2.6" d="M514.5,1127 L523,1140"/>
<path d="M519.7,1159.1 L531.4,1176.2 M519.7,1159.1 L526.9,1156.5"/>
<path style="stroke-width:1.3" d="M535.8,1109 Q535.5,1116 535.8,1117.9 Q540,1124 543.9,1129.6 L554.7,1153.8"/>
<path style="stroke-width:1.4" d="M540.5,1158 Q543,1154 546.5,1156 Q548,1161 545,1165 Q541.5,1165.5 540.5,1161 Z"/>
<path style="stroke-width:1.2" d="M534.5,1164.5 L553.8,1156"/>
<path style="stroke-width:2.4" d="M535.8,1189.6 Q538,1181 540.3,1178 Q546,1169 553.8,1164.5 L571.7,1155.6"/>
<path style="stroke-width:2.2" d="M571.7,1155.6 L594.1,1189.6 L608.4,1218.3 Q610.5,1224 609.3,1227.2 Q608.5,1230 606.6,1230.8 L562.7,1252.3 Q558,1255 555.6,1255.9"/>
<path d="M526,1193.2 Q526,1197 526.9,1198.6 L550.2,1252.3 Q552,1256 553.8,1256.8 L555.6,1255.9"/>
<path style="stroke-width:1.3" d="M533.2,1194.1 L555.6,1247 M535.8,1195 L558,1247.5"/>
<path d="M526,1193.2 Q526.5,1185 528.7,1180.6 Q531,1177.5 533.2,1177 L538.5,1178"/>
<path style="stroke-width:1.3" d="M526.5,1191.5 L535.8,1192"/>
<path d="M553.8,1164.5 L555.6,1155.6 L566.3,1150.6 Q570,1150.5 571.7,1153.8"/>
<path d="M562.7,1300.7 L562.3,1291.7 L571.3,1280.5 L600.4,1269.3 L631.8,1252.5 L638.5,1243 L668.9,1229.4 L683.7,1281.8 L683.7,1291.3 L667.5,1324.9 L627.2,1346.4 L626.2,1346.6 L578.8,1320.8 L562.7,1300.7 Z"/>
<path d="M562.7,1300.7 L615,1329.8 L626.2,1346.6"/>
<path d="M600.4,1269.3 L615,1329.8"/>
<path style="stroke-width:1.4" d="M602.6,1260.3 L603,1266 L609.3,1264.8"/>
<path d="M631.8,1252.5 L631.8,1262.5"/>
<path style="stroke-width:1.6" d="M624.5,1272.1L630.7,1264.3"/>
<path style="stroke-width:1.6" d="M621.1,1280.4L610.5,1298.4"/>
<path style="stroke-width:1.6" d="M631.8,1262.5L640.2,1289.4"/>
<path style="stroke-width:1.6" d="M641.9,1294.5L643.6,1307.9"/>
<path style="stroke-width:1.6" d="M632.9,1262.5L651.4,1272.1"/>
<path style="stroke-width:1.6" d="M657.5,1276.6L677.7,1287.2"/>
<path style="stroke-width:1.6" d="M648.6,1312.9L658.7,1305.1"/>
<path style="stroke-width:1.6" d="M663.1,1301.8L678.8,1289.5"/>
<path style="stroke-width:3.0" d="M610.5,1305.1 Q629,1298.6 648.6,1311.8"/>
<path style="stroke-width:1.5" d="M622,1323 Q636,1320 648.6,1312.9 M616.1,1318.6 L620,1318.8 L621.7,1321.5"/>
<path style="stroke-width:1.4" d="M677.7,1287.2 L680,1283 L683.7,1281.8"/>
<path d="M441,1058.7L449.4,1061.1"/>
<path d="M456.5,1064.7L473.3,1075.5"/>
<path d="M496,1085L516.3,1096.3"/>
<path style="stroke-width:2.3" d="M733.6,885 L733.6,850 Q734.7,848.5 735.8,850 L735.8,884"/>
<path style="stroke-width:2.6" d="M738.8,884 L738.8,847.5 Q740.3,845.5 741.8,847.5 L741.8,878"/>
<ellipse cx="737.2" cy="886.2" rx="1.8" ry="2.2" transform="rotate(0 737.2 886.2)" style="stroke-width:1.5"/>
<path d="M731.4,885.1 L731.4,908.3 L735,906 L734.5,902 L738,900.5 L738.5,904.5 L743.3,903 L743.3,877.7 L741.8,877.7"/>
<path d="M731.4,885.1 L733.6,884.5"/>
<path d="M716.4,873.2 L726.9,879.9 M745.6,890.4 L757.5,898.6"/>
<path d="M767.2,901.6 L770.5,900 L772,903 L775,898.5 L778.4,895.6 L778.4,918 L775,919.5 L773.5,916 L770.5,921 L767.2,923.2 Z"/>
<path d="M778.7,531.1 L798.4,505.4 L802,504.5 L819.6,499.7 Q823.4,499.5 823.4,502 L823.4,504.7 L809,510 L802.9,520.6 L790.8,532.7 L784.8,541.7 L782.5,558.4 L782.5,581.1 L778.7,590.2"/>
<path style="stroke-width:1.3" d="M802,504.5 L808,509.5"/>
<path style="stroke-width:2.4" d="M792,525 L805,510"/>
<path style="stroke-width:1.3" d="M785,538 L790.5,530"/>
<path d="M778.7,531.1 L771.1,534.2 L750,547.8 L739.4,551.6 L739.4,556.9 L740.9,558.4 L739.4,575 L737.1,584.1 L740.9,599.3 L748.4,603.8 L750,603.8"/>
<path style="stroke-width:2.6" d="M751,547.5 L776,533"/>
<path style="stroke-width:1.4" d="M742,558 L750.5,553.5 L750.5,596.5 L748.4,603.8"/>
<path style="stroke-width:1.3" d="M776.5,535 Q770,550 772,575 L765.1,585.6"/>
<path d="M765.1,585.6 L766,592 L759,594 L759,605 Q762,610 768,610 L775.7,607 L775.7,595 L778.7,590.2"/>
<path style="stroke-width:1.3" d="M764,593 L776,591"/>
<ellipse cx="742.5" cy="580" rx="2.6" ry="3.5" transform="rotate(0 742.5 580)" style="stroke-width:1.6"/>
<ellipse cx="787" cy="557" rx="2" ry="3" transform="rotate(0 787 557)" style="stroke-width:1.4"/>
<path style="stroke-width:1.3" d="M750,603.8 L765.1,646.2 M753,605 L767,644"/>
<path style="stroke-width:1.3" d="M774.2,605.3 L789.3,638.6 L768,646"/>
<path style="stroke-width:1.3" d="M753,617 Q755.5,626 758,628"/>
<path d="M757.5,652.2 L809,638.6 Q811,637.5 812,640 L842.3,679.5 L842.3,691.6 Q841,695 837.8,696.1 L798.4,720.4 L792.3,723.4"/>
<path d="M757.5,652.2 L757.5,656.8 C768,675 780,695 790.8,721.9 Q791,723.5 792.3,723.4"/>
<path style="stroke-width:1.3" d="M761,654.5 C772,675 784,697 794,720.5"/>
<path style="stroke-width:1.3" d="M763,652 C774,673 786,696 796,719"/>
<path style="stroke-width:1.5" d="M760,651 L765,656 L809,643"/>
<path d="M895.6,318.3 L921.9,304.4 Q924.5,303.5 926.8,304.8 L952.3,320.4 L926.8,335.5 Z"/>
<path d="M892.3,320 L892.3,391.9 L906.5,400.5"/>
<path d="M892.3,320 L894.5,316.5 L897,317.5"/>
<path d="M926.5,336 L926.5,376"/>
<path style="stroke-width:1.6" d="M889.4,328.6 Q888,331 890.5,332.5 L913,345 L914.5,342.6 L892,329.5 Z"/>
<path style="stroke-width:1.8" d="M896.4,338.5 L914.5,349.2"/>
<path style="stroke-width:2.4" d="M920.5,339 L920.5,350 L925.5,353.5"/>
<path d="M929.3,339.3 L950.7,327 L968.7,332.7 L968.7,364"/>
<path style="stroke-width:1.4" d="M950.7,327 L950.7,357.4"/>
<path style="stroke-width:2.6" d="M929.3,339.3 L929.3,368.5"/>
<path style="stroke-width:1.8" d="M930.1,368.1 L950.7,357.4 L963,363.1 L942.4,376.3 Z"/>
<path style="stroke-width:1.3" d="M933,343 L933,364 M937,342 L937,350"/>
<path style="stroke-width:2.6" d="M903.8,396.8 L904.7,429.7"/>
<path d="M918.6,403.4 L918.6,421.5 L904.7,429.7 M888.2,414.9 L904.7,428 M888.2,414.9 L903,406.7 M888.2,414.9 L888.2,420 L903.5,431.5"/>
<path style="stroke-width:1.5" d="M898.5,375.5 L903,376 L906.3,381 L906.3,388.6 L898.5,385 Z"/>
<path style="stroke-width:1.4" d="M910,410 Q912,406 911,404"/>
<path d="M920.3,388.6 L1069,307.5"/>
<path d="M919.4,408.3 L1065.5,327"/>
<path d="M926,375.5 L920.3,390.2 L920.3,408"/>
<path d="M969,349.4 L1072,291.2 L1100,277.7"/>
<path d="M969,364 L1083.2,298"/>
<path style="stroke-width:2.6" d="M926,394 L1060,322"/>
<path style="stroke-width:1.3" d="M932,397.5 L1062,326.5"/>
<path style="stroke-width:1.6" d="M926,400.5 L956,384.5 M960,382 L1058,329"/>
<path style="stroke-width:2.2" d="M1000,357.5 L1055,326 L1043,336"/>
<path style="stroke-width:1.3" d="M1036,335 L1065,318"/>
<path d="M960,315.8 L969,311 L965,309.5 L970,306.5 L974.6,308.5 L974.6,285.6 L1007,268.8 L1009.3,270.5 L1036.2,256.4 L1036.2,250.8 L1047.4,240.8"/>
<path d="M974.6,308.5 L973.4,332.6 Q974,338 980.2,338.2 L988,337"/>
<path style="stroke-width:1.5" d="M988.6,292.3 L988.6,333 Q988,339 980.5,341"/>
<path style="stroke-width:1.5" d="M988.6,292.3 L996,288.5 L996,317 Q996,328 988,336"/>
<path style="stroke-width:1.3" d="M979,326 L985,323 L986,331 L980,334 Z"/>
<path style="stroke-width:2.4" d="M996,288.5 L1030,271"/>
<path style="stroke-width:1.5" d="M993,285 L998,280.5 L1003,283"/>
<path style="stroke-width:1.8" d="M1061.4,230.3 L1061.4,222 L1064.6,219.6 L1074.2,227.3 L1063.5,232.1 Z"/>
<path d="M1047.9,241.7 L1063.5,232.1"/>
<path d="M1064.6,219.6 L1096.9,238.1 L1097.5,242.3 L1066.5,256.5 L1047.9,243.5"/>
<path style="stroke-width:1.3" d="M1065.8,253 L1096.5,239"/>
<path style="stroke-width:1.5" d="M1036.6,251.2 L1046.7,244.6 L1047.9,243.5 M1036.2,256.4 L1036.2,270 L1046.5,264 M1038,257 L1046,252.5 L1059,261 L1050,266.5 Z"/>
<path style="stroke-width:2.4" d="M1056,262 L1064,258"/>
<path style="stroke-width:1.6" d="M1069.4,257.2 L1069.4,290"/>
<path style="stroke-width:2.6" d="M1073,256.6 L1073,288"/>
<path style="stroke-width:1.4" d="M1083.8,253.6 L1083.8,272.7 M1089.7,247 L1089.7,253.5"/>
<path style="stroke-width:1.4" d="M1089.7,253.5 L1096.9,256"/>
<path style="stroke-width:2.6" d="M1096.9,256 L1096.9,275.7"/>
<path style="stroke-width:1.6" d="M1074.2,286.5 L1099.9,277.5 L1100.5,279.3 L1087.3,285.9 L1074.2,290.5"/>
<path style="stroke-width:1.3" d="M1075,282 L1085,276.5 L1092,278"/>
<path style="stroke-width:1.3" d="M1083.2,298 L1084.5,288.5"/>
<ellipse cx="1079.5" cy="302.5" rx="3" ry="3.5" transform="rotate(0 1079.5 302.5)" style="stroke-width:1.6"/>
<path style="stroke-width:1.3" d="M1075,308.5 L1086,297 M1075,297 L1086,306"/>
<path d="M1064.2,327 L1070.9,331.5 L1085.5,324.8 L1085.5,311.3 L1072,318.1 L1070.9,331.5 M1072,318.1 L1065.5,318.5"/>
<path d="M961.5,725.4 Q966,726 971.5,731 L1025.3,733.2"/>
<path d="M961.5,725.4 Q958,729 961.5,733.2 L973.8,740 L1025.3,743.3"/>
<path d="M1026.4,732 L1029.8,729.8 L1076.8,743.3 L1081.3,748.9 L1089.2,772.4 L1086.9,779.1 L1080.2,775.8 L1053.3,761.2 L1044.4,771.3 L1032,766.8 L1029.8,748.9 L1025.3,746.6 L1025.3,733.2 Z"/>
<path style="stroke-width:2.8" d="M1029.8,729.8 L1076.8,743.3"/>
<path style="stroke-width:1.3" d="M1076.8,743.3 L1078,748 L1085.5,772 L1080.2,775.8"/>
<path style="stroke-width:2.0" d="M1036,739.5 L1049,741.5 Q1052,743 1050,746 L1036.5,745.5 Q1033.5,743.5 1036,739.5 Z"/>
<path style="stroke-width:1.6" d="M1033.2,747.7 L1041,749.5 L1042.1,754.5 L1034,753 Z"/>
<path style="stroke-width:1.6" d="M1066.8,751.1 L1072,752 L1074.6,759 L1069,760 Z"/>
<path d="M1069,773.5 L1069,797 Q1074,801.5 1079,797 L1079,778"/>
<path d="M1097,770.2 L1123.9,785.8 L1117.2,790.3"/>
<path d="M1107,797.7 L1103.7,798.2 L1133,818"/>
<path d="M860.2,1031.4 L958.2,974.1 Q960,973.5 961.3,974.9 L966.8,1011.8 L866.5,1072.1 Q864.5,1072.5 864.1,1070.6 L858.6,1033.7 Q858.5,1032 860.2,1031.4 Z"/>
<path style="stroke-width:1.2" d="M861,1033.5 L959,976.5"/>
<path d="M962.1,977.3 L966.8,978 L969.2,1002.3 L966.1,1003.9"/>
<ellipse cx="884.5" cy="1044.7" rx="4.2" ry="5.6" transform="rotate(15 884.5 1044.7)" style="stroke-width:1.7"/>
<ellipse cx="916.6" cy="1025.9" rx="4.2" ry="5.6" transform="rotate(15 916.6 1025.9)" style="stroke-width:1.7"/>
<ellipse cx="948.8" cy="1007.1" rx="4.2" ry="5.6" transform="rotate(15 948.8 1007.1)" style="stroke-width:1.7"/>
<ellipse cx="870.4" cy="1032.5" rx="1.2" ry="1.5" transform="rotate(0 870.4 1032.5)" style="stroke-width:1.2"/>
<ellipse cx="874.3" cy="1062.7" rx="1.2" ry="1.5" transform="rotate(0 874.3 1062.7)" style="stroke-width:1.2"/>
<ellipse cx="954.3" cy="987.4" rx="1.2" ry="1.5" transform="rotate(0 954.3 987.4)" style="stroke-width:1.2"/>
<ellipse cx="878" cy="1038.5" rx="0.5" ry="0.6" transform="rotate(0 878 1038.5)" style="stroke-width:1.1"/>
<ellipse cx="889" cy="1033" rx="0.5" ry="0.6" transform="rotate(0 889 1033)" style="stroke-width:1.1"/>
<ellipse cx="910" cy="1020" rx="0.5" ry="0.6" transform="rotate(0 910 1020)" style="stroke-width:1.1"/>
<ellipse cx="921" cy="1014" rx="0.5" ry="0.6" transform="rotate(0 921 1014)" style="stroke-width:1.1"/>
<ellipse cx="942" cy="1001" rx="0.5" ry="0.6" transform="rotate(0 942 1001)" style="stroke-width:1.1"/>
<ellipse cx="950" cy="997" rx="0.5" ry="0.6" transform="rotate(0 950 997)" style="stroke-width:1.1"/>
<path d="M788.8,1079.2 L857.8,1040 M792,1103.5 L861,1065.1 M788.8,1079.2 L790.5,1102.5"/>
<path style="stroke-width:1.3" d="M853.1,1042.5 L855,1066.5 M857.8,1040 L860,1064"/>
<path style="stroke-width:1.6" d="M776.3,1086 L788.8,1079.2 L790.4,1104 L778,1108.2 Z"/>
<path style="stroke-width:1.1" d="M779.5,1087 L781,1106 M783,1085 L784.5,1105"/>
<path d="M784.6,1161 L1004.8,1037.7 L1004.8,1059.1 L786.3,1185.6 Z"/>
<path d="M790.2,1230 L1008.7,1102.4 Q1012,1101.5 1014.3,1106.9 L1019.9,1340 L1019.9,1436 L1017.7,1438.8 L1006.5,1450 L1005.4,1450 L817.1,1557.5 L797,1564.2 L789.1,1562 L789.1,1236 Q789,1231 790.2,1230 Z"/>
<path style="stroke-width:1.3" d="M793.6,1232.4 L1013.2,1105.8"/>
<path style="stroke-width:1.6" d="M794.4,1231 Q801,1290 800.8,1380 L799.8,1564"/>
<path style="stroke-width:1.5" d="M793.4,1232.5 Q797.5,1300 797.8,1380 L797.8,1562"/>
<path d="M794.7,1232.4 Q805,1227 811.5,1225.6 L829.5,1218.9 L993,1124.8 L1011,1106.9"/>
<path style="stroke-width:1.5" d="M993,1124.8 Q1000,1180 1002,1236.8 L1006.5,1340 L1011,1420 L1017.7,1438.8"/>
<path style="stroke-width:1.5" d="M829.5,1218.9 Q802.5,1388 817.1,1557.5"/>
<path style="stroke-width:1.5" d="M834,1223.4 L988.5,1134.9 L1000.9,1236.8 L836.2,1331 L834,1223.4 Z"/>
<path style="stroke-width:1.2" d="M838,1226 L990,1139"/>
<path d="M829.5,1335.4 L1002,1236.8 M836.2,1340 L1003.1,1245.8"/>
<path d="M858.6,1257 L962.8,1199.9 L963.9,1241.3 L858.6,1303 Z"/>
<path style="stroke-width:1.4" d="M950.5,1205.5 L950.5,1236.8 M953.5,1204 L953.5,1235"/>
<path style="stroke-width:1.2" d="M858.6,1290.6 L950.5,1236.8"/>
<path style="stroke-width:1.5" d="M862,1296 L869,1293 L880,1291 L889,1286 L896,1283 L898,1279 L920,1267 L940,1256 L950,1245"/>
<path style="stroke-width:1.4" d="M871,1285 L883,1280 L892,1283 M895,1279 L910,1270 M918,1261 L941,1249 L946,1252"/>
<path style="stroke-width:2.2" d="M862,1262 L870,1258 M890,1249 L900,1244 L920,1232 M925,1229 L945,1218"/>
<path style="stroke-width:1.5" d="M820.5,1349.1 L986.3,1257 M821.6,1340.2 L990,1247"/>
<path d="M820.5,1349.1 L820.5,1532.9 L822.7,1532.9 L997.5,1434.3 Q1002,1430 1002,1425.3 L1000.9,1250"/>
<path d="M986.3,1257 L986.3,1414.1 L989.5,1414 L990,1418.5"/>
<path style="stroke-width:1.3" d="M821.6,1517.2 L985.2,1423.1 M825,1529.5 L996.4,1428.7 M985.2,1423.1 L989,1420 L996.4,1428.7"/>
<path style="stroke-width:1.3" d="M996.4,1250 L996.4,1425"/>
<path style="stroke-width:1.3" d="M1011,1240 L1011,1420"/>
<path style="stroke-width:1.9" d="M1039,1382.8 Q1100,1325 1192.5,1295.9 L1192.5,1365 L1040.2,1452.6 L1039,1382.8 Z"/>
<ellipse cx="1074.2" cy="1388.7" rx="3.9" ry="5.3" transform="rotate(30 1074.2 1388.7)" style="stroke-width:1.6"/>
<ellipse cx="1074.2" cy="1388.7" rx="1.6" ry="2.2" transform="rotate(30 1074.2 1388.7)" style="stroke-width:1.2"/>
<ellipse cx="1088.9" cy="1378.9" rx="3.9" ry="5.3" transform="rotate(30 1088.9 1378.9)" style="stroke-width:1.6"/>
<ellipse cx="1088.9" cy="1378.9" rx="1.6" ry="2.2" transform="rotate(30 1088.9 1378.9)" style="stroke-width:1.2"/>
<ellipse cx="1105.5" cy="1368.6" rx="3.9" ry="5.3" transform="rotate(30 1105.5 1368.6)" style="stroke-width:1.6"/>
<ellipse cx="1119.9" cy="1361" rx="3.9" ry="5.3" transform="rotate(30 1119.9 1361)" style="stroke-width:1.6"/>
<ellipse cx="1134.6" cy="1352" rx="3.9" ry="5.3" transform="rotate(30 1134.6 1352)" style="stroke-width:1.6"/>
<ellipse cx="1134.6" cy="1352" rx="1.6" ry="2.2" transform="rotate(30 1134.6 1352)" style="stroke-width:1.2"/>
<ellipse cx="1149.4" cy="1343" rx="3.9" ry="5.3" transform="rotate(30 1149.4 1343)" style="stroke-width:1.6"/>
<ellipse cx="1149.4" cy="1343" rx="1.6" ry="2.2" transform="rotate(30 1149.4 1343)" style="stroke-width:1.2"/>
<path style="stroke-width:1.2" d="M1083,1402 Q1086,1405 1090,1402 M1085,1399 L1087,1404 L1089,1399"/>
<path style="stroke-width:1.2" d="M1144,1368 Q1147,1371 1151,1368 M1146,1365 L1148,1370 L1150,1365"/>
<ellipse cx="1071" cy="1370" rx="0.3" ry="0.3" transform="rotate(0 1071 1370)" style="stroke-width:0.9"/>
<ellipse cx="1088" cy="1359" rx="0.3" ry="0.3" transform="rotate(0 1088 1359)" style="stroke-width:0.9"/>
<ellipse cx="1134" cy="1333" rx="0.3" ry="0.3" transform="rotate(0 1134 1333)" style="stroke-width:0.9"/>
<ellipse cx="1149" cy="1324.5" rx="0.3" ry="0.3" transform="rotate(0 1149 1324.5)" style="stroke-width:0.9"/>
<path style="stroke-width:1.0" d="M1079,1373.5 L1082,1370.5 M1135.5,1345 L1143,1337"/>
<path d="M977.9,1175.8L1012,1195"/>
<path d="M1017.4,1197.6L1025.4,1203"/>
<path d="M1032.6,1206.6L1038.9,1210.2"/>
<path d="M1045.1,1214.7L1113.3,1253.2"/>
<path d="M1119.5,1257.7L1126.7,1261.3"/>
<path d="M1133.9,1265.8L1140.1,1269.3"/>
<path d="M1147.3,1272.9L1180.5,1292.6"/>
<path style="stroke-width:1.5" d="M0,1846.5 L1,1846.5 L1.8,1847.8"/>
<path class="f" d="M567,991.2 L583.5,990.3 L586,993.2 L573,996.5 Z"/>
</g>
</svg>
</body></html>
